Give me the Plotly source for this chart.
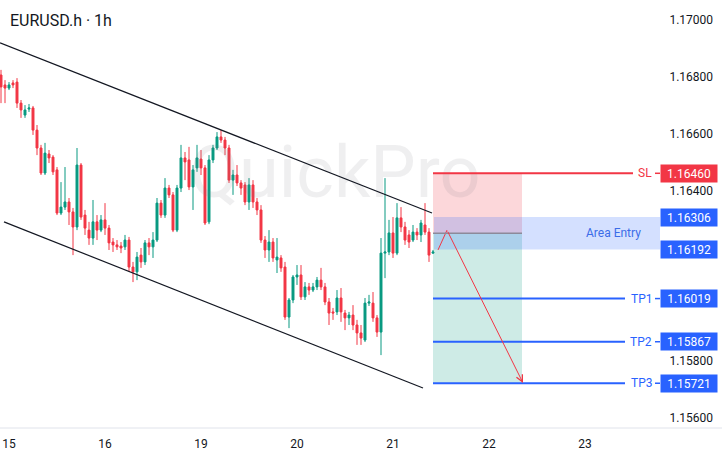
import plotly.graph_objects as go

title_text = "EURUSD.h · 1h"
watermark_text = "QuickPro"

# hourly candles (index = candle number, weekend removed)
opens = [1.16806,1.16771,1.16760,1.16778,1.16781,1.16707,1.16665,1.16686,1.16690,1.16612,
         1.16549,1.16461,1.16528,1.16517,1.16472,1.16320,1.16341,1.16359,1.16324,1.16271,
         1.16489,1.16313,1.16260,1.16232,1.16289,1.16260,1.16296,1.16267,1.16218,1.16208,
         1.16204,1.16201,1.16225,1.16130,1.16113,1.16172,1.16148,1.16215,1.16201,1.16225,
         1.16355,1.16313,1.16408,1.16384,1.16260,1.16408,1.16514,1.16507,1.16412,1.16479,
         1.16510,1.16479,1.16289,1.16507,1.16549,1.16588,1.16577,1.16549,1.16436,1.16454,
         1.16426,1.16419,1.16359,1.16419,1.16359,1.16331,1.16225,1.16190,1.16218,1.16155,
         1.16162,1.16130,1.15954,1.16014,1.16095,1.16102,1.16025,1.16060,1.16049,1.16060,
         1.16084,1.16060,1.16007,1.15972,1.15972,1.16021,1.15968,1.15951,1.15961,1.15926,
         1.15898,1.15873,1.16003,1.16003,1.15951,1.15901,1.16179,1.16183,1.16250,1.16179,
         1.16303,1.16271,1.16243,1.16225,1.16253,1.16243,1.16278,1.16253,1.16179]
highs = [1.16824,1.16788,1.16781,1.16788,1.16795,1.16718,1.16700,1.16704,1.16697,1.16630,
         1.16560,1.16567,1.16542,1.16524,1.16482,1.16429,1.16482,1.16373,1.16338,1.16549,
         1.16496,1.16331,1.16289,1.16366,1.16313,1.16313,1.16355,1.16278,1.16232,1.16225,
         1.16218,1.16243,1.16236,1.16148,1.16183,1.16197,1.16225,1.16232,1.16253,1.16373,
         1.16366,1.16443,1.16419,1.16394,1.16419,1.16560,1.16535,1.16553,1.16489,1.16560,
         1.16542,1.16489,1.16524,1.16560,1.16605,1.16612,1.16588,1.16560,1.16472,1.16489,
         1.16436,1.16429,1.16443,1.16436,1.16373,1.16348,1.16239,1.16260,1.16232,1.16232,
         1.16172,1.16148,1.16021,1.16102,1.16137,1.16137,1.16077,1.16074,1.16074,1.16095,
         1.16127,1.16074,1.16021,1.15986,1.16049,1.16056,1.15979,1.15972,1.15996,1.15944,
         1.15926,1.16021,1.16032,1.16042,1.15961,1.16232,1.16443,1.16296,1.16306,1.16355,
         1.16341,1.16289,1.16260,1.16278,1.16267,1.16296,1.16355,1.16267,1.16190]
lows = [1.16707,1.16707,1.16753,1.16760,1.16690,1.16655,1.16655,1.16676,1.16595,1.16524,
        1.16454,1.16454,1.16496,1.16454,1.16313,1.16313,1.16331,1.16278,1.16172,1.16260,
        1.16296,1.16243,1.16208,1.16208,1.16225,1.16253,1.16243,1.16190,1.16183,1.16190,
        1.16179,1.16190,1.16113,1.16077,1.16084,1.16127,1.16137,1.16172,1.16162,1.16218,
        1.16303,1.16303,1.16373,1.16253,1.16253,1.16394,1.16436,1.16401,1.16331,1.16465,
        1.16454,1.16278,1.16281,1.16496,1.16542,1.16567,1.16524,1.16426,1.16384,1.16415,
        1.16384,1.16348,1.16331,1.16338,1.16313,1.16215,1.16162,1.16148,1.16148,1.16109,
        1.16113,1.15944,1.15915,1.16003,1.16067,1.16014,1.16014,1.16032,1.16042,1.16049,
        1.16049,1.15996,1.15926,1.15944,1.15961,1.15937,1.15908,1.15926,1.15908,1.15856,
        1.15856,1.15866,1.15993,1.15937,1.15884,1.15820,1.16091,1.16172,1.16162,1.16172,
        1.16253,1.16208,1.16197,1.16218,1.16225,1.16218,1.16243,1.16148,1.16176]
closes = [1.16764,1.16760,1.16771,1.16771,1.16707,1.16683,1.16683,1.16690,1.16612,1.16549,
          1.16461,1.16531,1.16514,1.16465,1.16320,1.16341,1.16359,1.16324,1.16271,1.16489,
          1.16306,1.16267,1.16232,1.16289,1.16260,1.16296,1.16267,1.16215,1.16208,1.16201,
          1.16197,1.16225,1.16130,1.16113,1.16165,1.16148,1.16215,1.16201,1.16225,1.16355,
          1.16313,1.16408,1.16384,1.16260,1.16408,1.16514,1.16500,1.16412,1.16472,1.16514,
          1.16479,1.16285,1.16507,1.16549,1.16588,1.16577,1.16549,1.16436,1.16454,1.16426,
          1.16408,1.16359,1.16419,1.16359,1.16331,1.16225,1.16190,1.16218,1.16162,1.16165,
          1.16127,1.15954,1.16014,1.16095,1.16102,1.16025,1.16060,1.16049,1.16060,1.16084,
          1.16060,1.16007,1.15968,1.15968,1.16021,1.15972,1.15951,1.15961,1.15926,1.15898,
          1.15880,1.16003,1.16007,1.15951,1.15901,1.16179,1.16183,1.16250,1.16179,1.16303,
          1.16271,1.16225,1.16218,1.16253,1.16243,1.16285,1.16253,1.16172,1.16183]
candle_index = list(range(len(closes)))

day_labels = ["15", "16", "19", "20", "21", "22", "23"]
day_start_index = [2, 26, 50, 74, 98, 122, 146]
# price scale labels that are not hidden behind the order boxes
price_ticks = [1.156, 1.158, 1.164, 1.166, 1.168, 1.170]

# trade plan
sl_price = 1.16460
entry_high = 1.16306
entry_low = 1.16192
entry_price = 1.16249
tp_prices = [1.16019, 1.15867, 1.15721]
tp_names = ["TP1", "TP2", "TP3"]

# drawn channel and projection arrow (candle index, price)
upper_channel_x = [-0.25, 107.75]
upper_channel_y = [1.16919, 1.16320]
lower_channel_x = [0.75, 105.5]
lower_channel_y = [1.16289, 1.15704]
arrow_x = [109.25, 111.5, 130.5]
arrow_y = [1.16190, 1.16260, 1.15722]
pos_x0, pos_x1 = 108, 130.25

X_RANGE = [-0.25, 164.75]
Y_RANGE = [1.155634, 1.17070]

RED = "#F23645"
GREEN = "#089981"
BLUE = "#2962FF"
TXT = "#131722"

fig = go.Figure()

fig.add_trace(go.Scatter(x=[83.5], y=[1.16440], mode="text", text=[watermark_text],
                         textfont=dict(size=72, color="rgba(120,123,134,0.12)", family="Roboto"),
                         hoverinfo="skip", showlegend=False))

for cx, cy in [(upper_channel_x, upper_channel_y), (lower_channel_x, lower_channel_y)]:
    fig.add_trace(go.Scatter(x=cx, y=cy, mode="lines", line=dict(color=TXT, width=1.2),
                             hoverinfo="skip", showlegend=False))

fig.add_trace(go.Candlestick(
    x=candle_index, open=opens, high=highs, low=lows, close=closes,
    increasing=dict(line=dict(color=GREEN, width=1), fillcolor=GREEN),
    decreasing=dict(line=dict(color=RED, width=1), fillcolor=RED),
    whiskerwidth=0, showlegend=False))

fig.add_trace(go.Scatter(x=arrow_x[:2], y=arrow_y[:2], mode="lines",
                         line=dict(color=RED, width=1), hoverinfo="skip", showlegend=False))

shapes = []
shapes.append(dict(type="rect", xref="x", yref="y", x0=pos_x0, x1=pos_x1, y0=entry_price, y1=sl_price,
                   fillcolor="rgba(242,54,69,0.2)", line=dict(width=0), layer="below"))
shapes.append(dict(type="rect", xref="x", yref="y", x0=pos_x0, x1=pos_x1, y0=tp_prices[-1], y1=entry_price,
                   fillcolor="rgba(8,153,129,0.2)", line=dict(width=0), layer="below"))
shapes.append(dict(type="rect", xref="x", yref="y", x0=pos_x0 + 0.25, x1=X_RANGE[1], y0=entry_low, y1=entry_high,
                   fillcolor="rgba(41,98,255,0.2)", line=dict(width=0), layer="below"))
shapes.append(dict(type="line", xref="x", yref="y", x0=pos_x0, x1=pos_x1, y0=entry_price, y1=entry_price,
                   line=dict(color="#8C8A9A", width=1.5)))
shapes.append(dict(type="line", xref="x", yref="y", x0=pos_x0, x1=158, y0=sl_price, y1=sl_price,
                   line=dict(color=RED, width=2)))
shapes.append(dict(type="line", xref="x", yref="y", x0=163.5, x1=X_RANGE[1], y0=sl_price, y1=sl_price,
                   line=dict(color=RED, width=1.5)))
for p in tp_prices:
    shapes.append(dict(type="line", xref="x", yref="y", x0=pos_x0, x1=156, y0=p, y1=p,
                       line=dict(color=BLUE, width=2)))
    shapes.append(dict(type="line", xref="x", yref="y", x0=163.5, x1=X_RANGE[1], y0=p, y1=p,
                       line=dict(color=BLUE, width=1.5)))
shapes.append(dict(type="line", xref="paper", yref="paper", x0=0, x1=722 / 660, y0=0, y1=0,
                   line=dict(color="#E0E3EB", width=1)))

ann = []
ann.append(dict(xref="paper", yref="paper", x=8 / 660, y=1 - 20 / 428, text=title_text, showarrow=False,
                xanchor="left", yanchor="middle", font=dict(size=16, color=TXT)))
ann.append(dict(xref="x", yref="y", x=161, y=sl_price, text="SL", showarrow=False,
                font=dict(size=12, color=RED)))
for p, n in zip(tp_prices, tp_names):
    ann.append(dict(xref="x", yref="y", x=160, y=p, text=n, showarrow=False,
                    font=dict(size=12, color=BLUE)))
ann.append(dict(xref="x", yref="y", x=153, y=(entry_high + entry_low) / 2, text="Area Entry",
                showarrow=False, font=dict(size=12, color="#3B6CE8")))
box_prices = [sl_price, entry_high, entry_low] + tp_prices
box_colors = [RED, BLUE, BLUE, BLUE, BLUE, BLUE]
for p, c in zip(box_prices, box_colors):
    ann.append(dict(xref="paper", yref="y", x=1.0, y=p, text=f"{p:.5f}", showarrow=False,
                    xanchor="left", yanchor="middle", bgcolor=c, width=52, height=13, borderpad=2,
                    font=dict(size=12, color="white")))
ann.append(dict(xref="x", yref="y", x=arrow_x[2], y=arrow_y[2], axref="x", ayref="y",
                ax=arrow_x[1], ay=arrow_y[1], text="", showarrow=True, arrowhead=5,
                arrowsize=1.3, arrowwidth=1, arrowcolor=RED, standoff=0))

fig.update_layout(
    width=722, height=456, margin=dict(l=0, r=62, t=0, b=28),
    paper_bgcolor="white", plot_bgcolor="white",
    font=dict(family="Roboto", color=TXT, size=12),
    showlegend=False, shapes=shapes, annotations=ann,
    xaxis=dict(range=X_RANGE, tickvals=day_start_index, ticktext=day_labels,
               showgrid=False, zeroline=False, showline=False, rangeslider=dict(visible=False),
               ticks="outside", ticklen=5, tickcolor="rgba(0,0,0,0)",
               tickfont=dict(size=12, color=TXT)),
    yaxis=dict(range=Y_RANGE, side="right", tickvals=price_ticks,
               ticktext=[f"{t:.5f}" for t in price_ticks],
               showgrid=False, zeroline=False, showline=False,
               ticks="outside", ticklen=6, tickcolor="rgba(0,0,0,0)",
               tickfont=dict(size=12, color=TXT)),
)

fig.write_html("out.html", config={"displayModeBar": False},
               post_script="document.body.style.margin='0';")
